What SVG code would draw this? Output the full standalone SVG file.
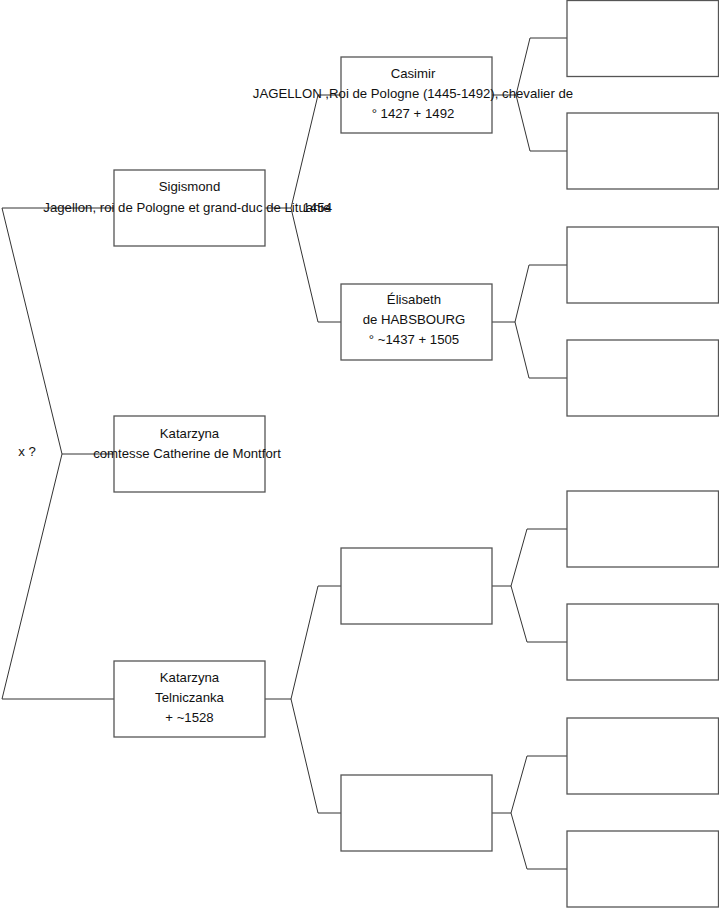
<svg xmlns="http://www.w3.org/2000/svg" width="719" height="908" viewBox="0 0 719 908">
<style>
.box{fill:#fff;stroke:#555;stroke-width:1.3}
.ln{fill:none;stroke:#333;stroke-width:1}
text{font-family:"Liberation Sans",Arial,sans-serif;font-size:13.2px;fill:#111;text-anchor:middle}
</style>
<rect width="719" height="908" fill="#fff"/>
<g id="connectors">
<polyline class="ln" points="114,208 2,208 62,454 2,699 114,699"/>
<polyline class="ln" points="62,454 114,454"/>
<polyline class="ln" points="265,208 291,208"/>
<polyline class="ln" points="341,95 318,95 291,208 318,322 341,322"/>
<polyline class="ln" points="492,95 516,95"/>
<polyline class="ln" points="567,38 530,38 516,95 530,151 567,151"/>
<polyline class="ln" points="492,322 515,322"/>
<polyline class="ln" points="567,265 529,265 515,322 529,378 567,378"/>
<polyline class="ln" points="265,699 291,699"/>
<polyline class="ln" points="341,586 318,586 291,699 318,813 341,813"/>
<polyline class="ln" points="492,586 511,586"/>
<polyline class="ln" points="567,529 527,529 511,586 527,642 567,642"/>
<polyline class="ln" points="492,813 511,813"/>
<polyline class="ln" points="567,756 527,756 511,813 527,869 567,869"/>
</g>
<g id="root-label"><text x="27" y="456">x ?</text></g>
<g id="sigismond">
<rect class="box" x="114" y="170" width="151" height="76"/>
<text x="189.5" y="191">Sigismond</text>
<text x="187" y="212">Jagellon, roi de Pologne et grand-duc de Lituanie</text>
<text x="332" y="212" style="text-anchor:end">1454</text>
</g>
<g id="katarzyna-montfort">
<rect class="box" x="114" y="416" width="151" height="76"/>
<text x="189.5" y="438">Katarzyna</text>
<text x="187" y="458">comtesse Catherine de Montfort</text>
</g>
<g id="katarzyna-telniczanka">
<rect class="box" x="114" y="661" width="151" height="76"/>
<text x="189.5" y="682">Katarzyna</text>
<text x="189.5" y="702">Telniczanka</text>
<text x="189.5" y="722">+ ~1528</text>
</g>
<g id="casimir">
<rect class="box" x="341" y="57" width="151" height="76"/>
<text x="413" y="78">Casimir</text>
<text x="413" y="98">JAGELLON ,Roi de Pologne (1445-1492), chevalier de</text>
<text x="413" y="118">° 1427 + 1492</text>
</g>
<g id="elisabeth">
<rect class="box" x="341" y="284" width="151" height="76"/>
<text x="414" y="304">Élisabeth</text>
<text x="414" y="324">de HABSBOURG</text>
<text x="414" y="344">° ~1437 + 1505</text>
</g>
<g id="blank-c2-3"><rect class="box" x="341" y="548" width="151" height="76"/></g>
<g id="blank-c2-4"><rect class="box" x="341" y="775" width="151" height="76"/></g>
<g id="blank-c3-1"><rect class="box" x="567" y="0.5" width="151.5" height="76"/></g>
<g id="blank-c3-2"><rect class="box" x="567" y="113" width="151.5" height="76"/></g>
<g id="blank-c3-3"><rect class="box" x="567" y="227" width="151.5" height="76"/></g>
<g id="blank-c3-4"><rect class="box" x="567" y="340" width="151.5" height="76"/></g>
<g id="blank-c3-5"><rect class="box" x="567" y="491" width="151.5" height="76"/></g>
<g id="blank-c3-6"><rect class="box" x="567" y="604" width="151.5" height="76"/></g>
<g id="blank-c3-7"><rect class="box" x="567" y="718" width="151.5" height="76"/></g>
<g id="blank-c3-8"><rect class="box" x="567" y="831" width="151.5" height="76"/></g>
</svg>
